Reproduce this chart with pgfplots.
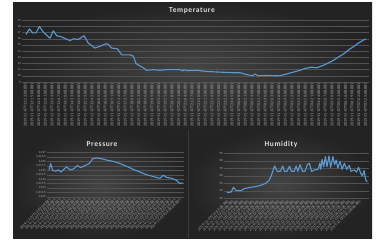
\documentclass[border=0pt]{standalone}
\usepackage{fontspec}
\setmainfont{Carlito}
\usepackage{pgfplots}
\pgfplotsset{compat=1.18}
\definecolor{bgin}{HTML}{444444}
\definecolor{bgout}{HTML}{232323}
\definecolor{gridc}{HTML}{525252}
\definecolor{linec}{HTML}{5B9BD5}
\definecolor{tickc}{HTML}{A6A6A6}
\definecolor{ttl}{HTML}{E0E0E0}
\newcommand\tslabel[2]{%
 \pgfmathtruncatemacro\mm{mod(52+#1*#2,60)}%
 \pgfmathtruncatemacro\hh{mod(11+floor((52+#1*#2)/60),24)}%
 2019-11-07T\ifnum\hh<10 0\fi\hh:\ifnum\mm<10 0\fi\mm:08.881}
\pgfplotsset{chart/.style={
  scale only axis, anchor=south west,
  axis line style={draw=none}, major tick length=0pt,
  ymajorgrids, grid style={gridc, line width=0.4pt},
  tick label style={font=\fontsize{3.2}{3.6}\selectfont, text=tickc},
  /pgf/number format/assume math mode=true,
  yticklabel style={inner sep=1pt},
  clip=false}}
\begin{document}
\begin{tikzpicture}[x=1bp,y=1bp]
\fill[white] (0,0) rectangle (377,241);
\shade[inner color=bgin,outer color=bgout] (13,111) rectangle (372,238);
\shade[inner color=bgin,outer color=bgout] (13,2) rectangle (188,110.5);
\shade[inner color=bgin,outer color=bgout] (188,2) rectangle (372,110.5);
\draw[gridc!70!black, line width=0.4pt] (188,2) -- (188,110.5);

% Temperature
\begin{axis}[chart, at={(22bp,159bp)}, width=347bp, height=61.7bp,
  xmin=66, xmax=1107, ymin=9, ymax=19, ytick={9,10,...,19},
  xtick={76,96,...,1096},
  xticklabel={\tslabel{\ticknum}{23}},
  xticklabel style={font=\fontsize{4.2}{4.5}\selectfont, rotate=90, anchor=east, inner sep=0.8pt}]
\addplot[linec, line width=1.1pt, line join=round] coordinates {
(78,16.7)(88,17.6)(98,16.95)(108,16.95)(118,18.0)(130,17.1)(150,16.1)(160,17.3)
(170,16.5)(185,16.3)(210,15.7)(220,16.0)(235,15.9)(252,16.5)(265,15.3)(285,14.5)
(300,14.8)(318,15.2)(325,15.1)(335,14.5)(352,14.4)(365,13.4)(390,13.4)(400,13.2)
(408,12.0)(420,11.6)(430,11.3)(440,10.9)(460,11.0)(480,10.9)(500,11.0)(540,11.0)
(548,10.8)(552,11.0)(560,10.85)(590,10.9)(620,10.7)(660,10.6)(700,10.5)(720,10.5)
(740,10.2)(758,10.0)(765,10.3)(775,10.0)(790,10.05)(810,10.05)(835,10.0)(845,10.1)
(860,10.3)(880,10.6)(900,10.9)(915,11.2)(935,11.4)(950,11.3)(970,11.7)(985,12.1)
(1000,12.5)(1020,13.2)(1035,13.7)(1048,14.3)(1060,14.7)(1075,15.3)(1097,16.0)};
\end{axis}

% Pressure
\begin{axis}[chart, at={(47bp,44bp)}, width=137bp, height=44.5bp,
  xmin=141, xmax=552, ymin=1012, ymax=1017, ytick={1012,1012.5,...,1017},
  xtick={147,162,...,530},
  xticklabel={\tslabel{\ticknum}{41}},
  yticklabel={\pgfmathprintnumber[fixed,precision=1]{\tick}},
  xticklabel style={font=\fontsize{4}{4.3}\selectfont, rotate=45, anchor=north east, inner sep=0.8pt}]
\addplot[linec, line width=1.1pt, line join=round] coordinates {
(147,1015.06)(152,1015.76)(158,1014.98)(168,1014.9)(175,1015.06)(183,1014.8)
(192,1015.14)(200,1015.37)(210,1015.06)(220,1015.14)(232,1015.53)(242,1015.3)
(255,1015.53)(268,1015.76)(278,1016.3)(290,1016.38)(305,1016.3)(320,1016.15)
(340,1016.0)(360,1015.76)(380,1015.45)(400,1015.1)(420,1014.8)(440,1014.5)
(460,1014.3)(480,1014.1)(490,1014.45)(500,1014.2)(515,1014.1)(528,1013.9)
(540,1013.5)(548,1013.6)};
\end{axis}

% Humidity
\begin{axis}[chart, at={(224bp,42.7bp)}, width=145bp, height=45bp,
  xmin=108, xmax=550, ymin=30, ymax=90, ytick={30,40,...,90},
  xtick={117,132.5,...,520},
  xticklabel={\tslabel{\ticknum}{41}},
  xticklabel style={font=\fontsize{4}{4.3}\selectfont, rotate=45, anchor=north east, inner sep=0.8pt}]
\addplot[linec, line width=1.1pt, line join=round] coordinates {
(117,37.6)(130,38.4)(137,44.7)(145,40.2)(160,40.2)(170,42.9)(190,44.7)(205,45.6)
(220,47.3)(235,50)(245,53.6)(252,59.8)(262,73.1)(270,66)(280,66)(287,73)(292,66)
(300,66)(308,73)(313,66)(322,66)(328,73)(333,66)(340,74.9)(347,66)(355,66)(362,74.9)
(368,76.7)(375,66)(385,67.8)(395,68.7)(400,76.7)(403,68.7)(407,82)(412,72)(417,85.6)
(422,72.2)(428,86.4)(433,71.3)(440,85.6)(445,75)(450,81)(455,70.4)(462,79.3)(468,68.7)
(475,76.7)(482,68.7)(490,74)(495,66)(505,67.8)(512,65)(518,71.3)(525,63.3)(530,59.8)
(535,66.9)(540,54.4)(545,52.2)};
\end{axis}

\node[font=\fontsize{7.5}{8}\selectfont\bfseries\addfontfeature{LetterSpace=8}, text=ttl] at (192,230) {Temperature};
\node[font=\fontsize{7.5}{8}\selectfont\bfseries\addfontfeature{LetterSpace=8}, text=ttl] at (102,97) {Pressure};
\node[font=\fontsize{7.5}{8}\selectfont\bfseries\addfontfeature{LetterSpace=8}, text=ttl] at (281,97) {Humidity};
\end{tikzpicture}
\end{document}
